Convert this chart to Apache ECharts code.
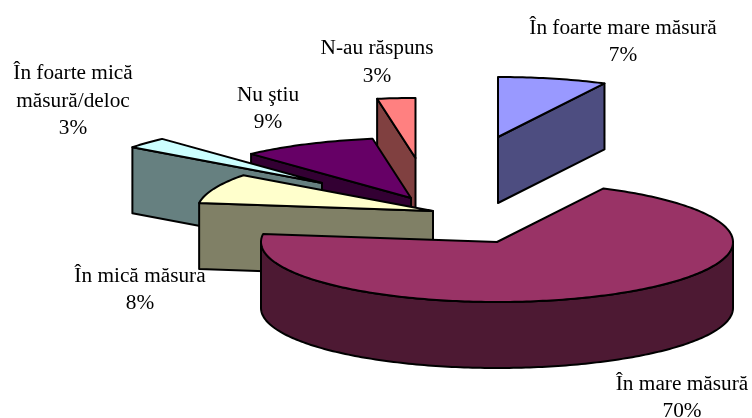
<!DOCTYPE html>
<html>
<head>
<meta charset="utf-8">
<style>
  html, body { margin: 0; padding: 0; background: #fff; }
  #main { width: 752px; height: 418px; }
</style>
</head>
<body>
<div id="main"></div>
<script src="https://cdn.jsdelivr.net/npm/echarts@6/dist/echarts.min.js"></script>
<script>
// date
const categories = ['În foarte mare măsură', 'În mare măsură', 'În mică măsura', 'În foarte mică\nmăsură/deloc', 'Nu ştiu', 'N-au răspuns']
const shares = [7.45, 69.7, 8, 3, 9.25, 2.6]

// culori
const topColors = ['#9999ff', '#993366', '#ffffcc', '#ccffff', '#660066', '#ff8080']
const sideColors = ['#4d4d80', '#4d1933', '#808066', '#668080', '#330033', '#804040']

// layout: varful fiecarei felii explodate, pozitia etichetei, ordinea de desenare
const apex = [[498, 137], [497, 242], [433, 211], [322, 183], [411, 198], [415.5, 158]]
const labelPos = [[623, 42], [682, 398], [140, 290], [73, 101], [268, 109], [377, 62.5]]
const drawRank = [0, 5, 4, 3, 2, 1]
const rx = 236
const ry = 60
const depth = 66

const total = shares.reduce((a, b) => a + b, 0)
const lineStyle = { stroke: '#000', lineWidth: 2, lineJoin: 'round' }

function rimPoint(center, deg, drop) {
  const r = deg * Math.PI / 180
  return [center[0] + rx * Math.sin(r), center[1] - ry * Math.cos(r) + drop]
}

function poly(points, fill, z2) {
  return {
    type: 'polygon',
    shape: { points: points },
    style: Object.assign({ fill: fill }, lineStyle),
    z2: z2,
    silent: true
  }
}

// fata taieturii se vede doar daca felia e deasupra liniei varf-margine
function cutFaceVisible(c, deg, midDeg) {
  const p = rimPoint(c, deg, 0)
  const m = rimPoint(c, midDeg, 0)
  const dx = p[0] - c[0]
  if (Math.abs(dx) < 1) return false
  const t = (m[0] - c[0]) / dx
  return m[1] < c[1] + t * (p[1] - c[1])
}

function renderSlice(params, api) {
  const i = params.dataIndex
  const before = shares.slice(0, i).reduce((a, b) => a + b, 0)
  const from = before / total * 360
  const to = from + api.value(0) / total * 360
  const mid = (from + to) / 2
  const c = apex[i]
  const z = (drawRank[i] + 1) * 10
  const children = []

  // fetele taieturii
  const bottom = [c[0], c[1] + depth]
  ;[from, to].forEach((deg) => {
    if (cutFaceVisible(c, deg, mid)) {
      children.push(poly([c, rimPoint(c, deg, 0), rimPoint(c, deg, depth), bottom], sideColors[i], z))
    }
  })

  // peretele exterior, doar partea din fata
  const wallFrom = Math.max(from, 90)
  const wallTo = Math.min(to, 270)
  if (wallTo > wallFrom) {
    const upper = []
    const lower = []
    for (let d = wallFrom; d <= wallTo; d += 1) {
      upper.push(rimPoint(c, d, 0))
      lower.unshift(rimPoint(c, d, depth))
    }
    children.push(poly(upper.concat(lower), sideColors[i], z + 1))
  }

  // fata de sus
  const top = [c]
  for (let d = from; d < to; d += 1) {
    top.push(rimPoint(c, d, 0))
  }
  top.push(rimPoint(c, to, 0))
  children.push(poly(top, topColors[i], z + 2))

  // eticheta
  children.push({
    type: 'text',
    silent: true,
    z2: 200,
    style: {
      x: labelPos[i][0],
      y: labelPos[i][1],
      text: categories[i] + '\n' + Math.round(api.value(0) / total * 100) + '%',
      fill: '#000',
      font: '21.3px "Liberation Serif"',
      lineHeight: 27.5,
      align: 'center',
      verticalAlign: 'middle'
    }
  })

  return { type: 'group', children: children }
}

const chartInstance = echarts.init(document.getElementById('main'))
chartInstance.setOption({
  backgroundColor: '#fff',
  animation: false,
  series: [
    {
      type: 'custom',
      coordinateSystem: 'none',
      renderItem: renderSlice,
      data: shares.map((v, i) => ({ name: categories[i], value: [v] }))
    }
  ]
})
</script>
</body>
</html>
